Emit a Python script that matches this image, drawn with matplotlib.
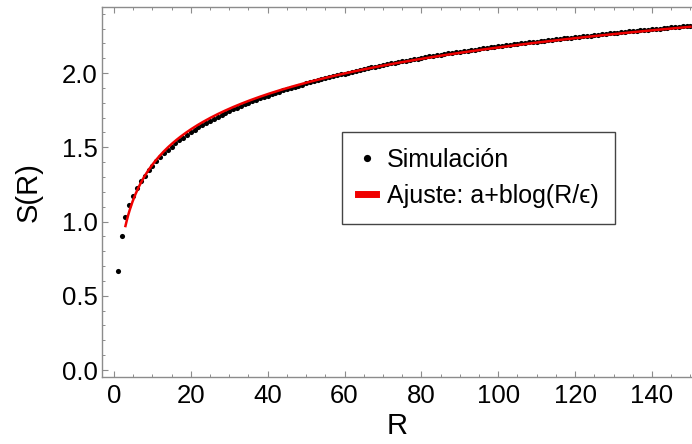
import numpy as np
import matplotlib.pyplot as plt
from matplotlib.lines import Line2D
from matplotlib.ticker import MultipleLocator

# simulation points S(R), R = 1..150
R_sim = np.arange(1, 151)
S_sim = [
    0.667, 0.904, 1.030, 1.110, 1.172, 1.228, 1.272, 1.310, 1.345, 1.377,
    1.407, 1.433, 1.459, 1.482, 1.505, 1.526, 1.547, 1.565, 1.584, 1.602,
    1.618, 1.634, 1.650, 1.665, 1.679, 1.694, 1.706, 1.720, 1.732, 1.745,
    1.756, 1.768, 1.778, 1.790, 1.799, 1.810, 1.820, 1.830, 1.839, 1.848,
    1.857, 1.866, 1.874, 1.883, 1.891, 1.899, 1.907, 1.915, 1.922, 1.930,
    1.937, 1.944, 1.951, 1.958, 1.965, 1.972, 1.978, 1.985, 1.991, 1.997,
    2.003, 2.010, 2.015, 2.022, 2.027, 2.033, 2.038, 2.043, 2.049, 2.054,
    2.059, 2.065, 2.070, 2.074, 2.079, 2.084, 2.089, 2.093, 2.098, 2.102,
    2.106, 2.112, 2.116, 2.120, 2.124, 2.128, 2.132, 2.136, 2.140, 2.143,
    2.147, 2.151, 2.155, 2.158, 2.162, 2.166, 2.169, 2.173, 2.176, 2.180,
    2.183, 2.186, 2.190, 2.193, 2.196, 2.200, 2.203, 2.206, 2.209, 2.212,
    2.215, 2.218, 2.221, 2.225, 2.227, 2.230, 2.233, 2.236, 2.239, 2.242,
    2.245, 2.248, 2.251, 2.253, 2.256, 2.259, 2.262, 2.264, 2.267, 2.270,
    2.272, 2.275, 2.277, 2.280, 2.283, 2.285, 2.288, 2.290, 2.293, 2.295,
    2.297, 2.300, 2.302, 2.305, 2.307, 2.309, 2.312, 2.314, 2.316, 2.319,
]

# fit a + b*log(R/eps), drawn from R = 3 on
a_fit = 0.593
b_fit = 0.343
eps_fit = 1.0
R_fit_min, R_fit_max = 3, 150

x_ticks = [0, 20, 40, 60, 80, 100, 120, 140]
y_ticks = [0.0, 0.5, 1.0, 1.5, 2.0]

plt.rcParams['font.family'] = ['Liberation Sans', 'DejaVu Sans']

fig = plt.figure(figsize=(6.92, 4.44), dpi=100)
ax = fig.add_axes([102 / 692, 1 - 377 / 444, 1 - 102 / 692, (377 - 7) / 444])

R_fit = np.linspace(R_fit_min, R_fit_max, 400)
S_fit = a_fit + b_fit * np.log(R_fit / eps_fit)

ax.plot(R_sim, S_sim, 'o', color='black', ms=3.7, mew=0, zorder=2)
ax.plot(R_fit, S_fit, '-', color='#f00000', lw=1.8, zorder=3)

ax.set_xlim(-3.1, 150.4)
ax.set_ylim(-0.047, 2.445)
ax.set_xticks(x_ticks)
ax.set_yticks(y_ticks)
ax.set_yticklabels(['%.1f' % v for v in y_ticks])
ax.xaxis.set_minor_locator(MultipleLocator(5))
ax.yaxis.set_minor_locator(MultipleLocator(0.1))

gray = '#8c8c8c'
for side in ['left', 'bottom', 'top']:
    ax.spines[side].set_color(gray)
    ax.spines[side].set_linewidth(1.0)
ax.spines['right'].set_visible(False)

ax.tick_params(which='both', direction='in', color=gray, top=True, right=False,
               labelsize=18.5, labelcolor='black')
ax.tick_params(which='major', length=4, width=0.8)
ax.tick_params(which='minor', length=2.3, width=0.7)
ax.tick_params(axis='x', pad=5)
ax.tick_params(axis='y', pad=3)

ax.set_xlabel('R', fontsize=21, labelpad=3)
ax.set_ylabel('S(R)', fontsize=21, labelpad=14)

handles = [
    Line2D([], [], marker='o', ls='none', color='black', ms=5.2, mew=0),
    Line2D([], [], ls='-', color='#f00000', lw=5),
]
leg = ax.legend(handles, ['Simulación', 'Ajuste: a+blog(R/ϵ)'],
                loc='upper left', bbox_to_anchor=((342 - 102) / 590, (377 - 132) / 370),
                fontsize=18, frameon=True, fancybox=False, framealpha=1,
                handlelength=0.7, handletextpad=0.45, labelspacing=0.45,
                borderpad=0.65, borderaxespad=0)
leg.get_frame().set_edgecolor('#444444')
leg.get_frame().set_linewidth(1.0)

fig.savefig('out.png', dpi=100)
